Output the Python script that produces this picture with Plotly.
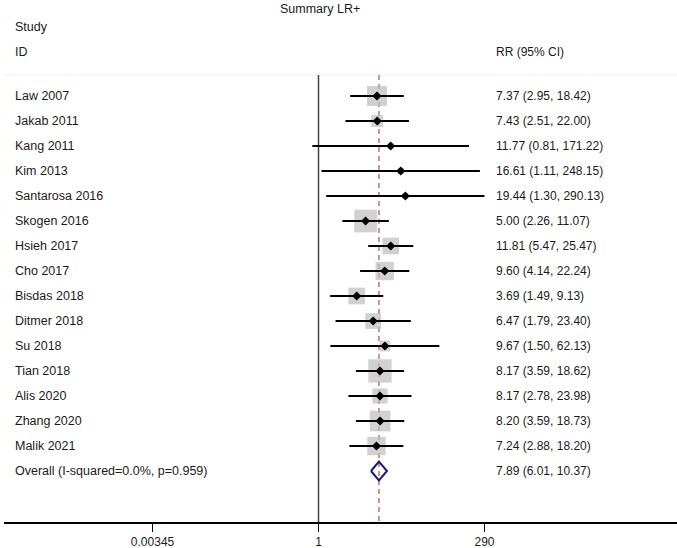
import plotly.graph_objects as go
import math

studies = ["Law 2007", "Jakab 2011", "Kang 2011", "Kim 2013", "Santarosa 2016",
           "Skogen 2016", "Hsieh 2017", "Cho 2017", "Bisdas 2018", "Ditmer 2018",
           "Su 2018", "Tian 2018", "Alis 2020", "Zhang 2020", "Malik 2021"]
rr = [7.37, 7.43, 11.77, 16.61, 19.44, 5.00, 11.81, 9.60, 3.69, 6.47, 9.67, 8.17, 8.17, 8.20, 7.24]
lo = [2.95, 2.51, 0.81, 1.11, 1.30, 2.26, 5.47, 4.14, 1.49, 1.79, 1.50, 3.59, 2.78, 3.59, 2.88]
hi = [18.42, 22.00, 171.22, 248.15, 290.13, 11.07, 25.47, 22.24, 9.13, 23.40, 62.13, 18.62, 23.98, 18.73, 18.20]
# estimated percent weights
weights = [10.1, 3.6, 0.8, 1.0, 0.9, 13.0, 7.0, 8.5, 7.0, 6.2, 2.9, 13.7, 5.9, 10.8, 8.5]
overall_label = "Overall (I-squared=0.0%, p=0.959)"
overall = [7.89, 6.01, 10.37]
tick_vals = [0.00345, 1, 290]
tick_text = ["0.00345", "1", "290"]

W, H = 677, 548
ML, MR, MT, MB = 4, 0, 0, 26
px_per_dec = 67.4
x_one = 318.5
xr = [(ML - x_one) / px_per_dec, (W - MR - x_one) / px_per_dec]
row0, rowstep = 96, 25.0
yr = [(H - MB - row0) / rowstep, (MT - row0) / rowstep]
top_row = (75 - row0) / rowstep

FONT = "Liberation Sans, Arial, sans-serif"
TXT = "#1a1a1a"

def xpaper(px):
    return (px - ML) / (W - ML - MR)

n = len(studies)
rows = list(range(n))
orow = n

fig = go.Figure()

# faint top line
fig.add_trace(go.Scatter(x=[10 ** xr[0], 10 ** xr[1]], y=[top_row, top_row], mode="lines",
                         line=dict(color="#efefef", width=1), hoverinfo="skip", showlegend=False))
# null line
fig.add_trace(go.Scatter(x=[1, 1], y=[top_row, yr[0]], mode="lines",
                         line=dict(color="#444444", width=1.5), hoverinfo="skip", showlegend=False))
# overall dashed line
fig.add_trace(go.Scatter(x=[overall[0], overall[0]], y=[top_row, yr[0]], mode="lines",
                         line=dict(color="#bf6f78", width=1.5, dash="5px,4px"),
                         hoverinfo="skip", showlegend=False))
# boxes
fig.add_trace(go.Scatter(x=rr, y=rows, mode="markers",
                         marker=dict(symbol="square", color="#bdbdbd",
                                     size=[6.3 * math.sqrt(w) for w in weights], line=dict(width=0)),
                         showlegend=False))
# CI lines
cx, cy = [], []
for i in range(n):
    cx += [lo[i], hi[i], None]
    cy += [i, i, None]
fig.add_trace(go.Scatter(x=cx, y=cy, mode="lines", line=dict(color="black", width=1.8),
                         showlegend=False))
# point estimates
fig.add_trace(go.Scatter(x=rr, y=rows, mode="markers",
                         marker=dict(symbol="diamond", color="black", size=7), showlegend=False))
# overall diamond
dh = 9.5 / rowstep
fig.add_trace(go.Scatter(x=[overall[1], overall[0], overall[2], overall[0], overall[1]],
                         y=[orow, orow - dh, orow, orow + dh, orow], mode="lines",
                         line=dict(color="#1c1c78", width=2), showlegend=False))

ann = []
def add_text(px, row, text, anchor="left", size=12.5):
    ann.append(dict(x=xpaper(px), xref="paper", y=row, yref="y", text=text, showarrow=False,
                    xanchor=anchor, yanchor="middle", font=dict(family=FONT, size=size, color=TXT)))

for i in range(n):
    add_text(13, i, studies[i])
    add_text(494, i, f"{rr[i]:.2f} ({lo[i]:.2f}, {hi[i]:.2f})", size=12)
add_text(13, orow, overall_label)
add_text(494, orow, f"{overall[0]:.2f} ({overall[1]:.2f}, {overall[2]:.2f})", size=12)
add_text(13, (52 - row0) / rowstep, "ID")
add_text(13, (27 - row0) / rowstep, "Study")
add_text(494, (52 - row0) / rowstep, "RR (95% CI)", size=12)
add_text(320, (9 - row0) / rowstep, "Summary LR+", anchor="center")

fig.update_layout(
    width=W, height=H, margin=dict(l=ML, r=MR, t=MT, b=MB, pad=0),
    paper_bgcolor="white", plot_bgcolor="white",
    annotations=ann, showlegend=False,
    xaxis=dict(type="log", range=xr, tickvals=tick_vals, ticktext=tick_text,
               ticks="outside", ticklen=8, tickwidth=1.2, tickcolor="black",
               showline=True, linecolor="black", linewidth=1.5, showgrid=False, zeroline=False,
               tickfont=dict(family=FONT, size=12, color=TXT)),
    yaxis=dict(range=yr, visible=False, showgrid=False, zeroline=False),
)

fig.write_html("out.html", config={"displayModeBar": False},
               post_script="document.body.style.margin='0';document.body.style.padding='0';")
